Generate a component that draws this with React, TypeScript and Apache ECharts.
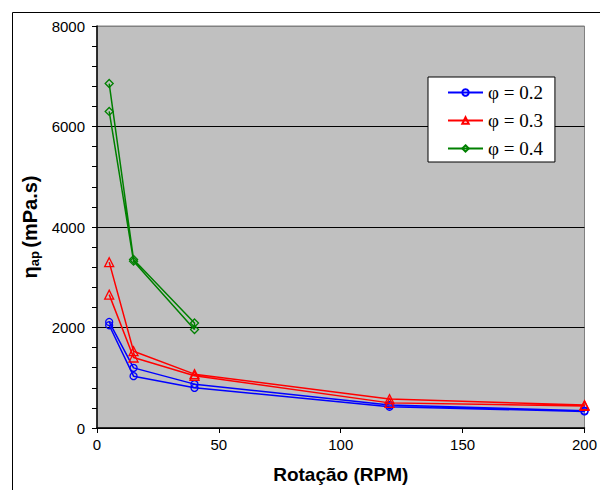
import React, { useEffect, useRef } from "react";
import * as echarts from "echarts";

const rpmLoop = [5, 15, 40, 120, 200, 200, 120, 40, 15, 5];
const phi02 = [2110, 1197, 873, 456, 345, 330, 423, 800, 1032, 2045];
const phi03 = [3300, 1528, 1072, 575, 456, 440, 500, 1040, 1403, 2654];
const rpmShort = [5, 15, 40, 40, 15, 5];
const phi04 = [6855, 3355, 2090, 1960, 3320, 6300];
const seriesNames = ["φ = 0.2", "φ = 0.3", "φ = 0.4"];
const xTicks = { min: 0, max: 200, interval: 50 };
const yTicks = { min: 0, max: 8000, interval: 2000 };

const pairs = (xs: number[], ys: number[]) => xs.map((x, i) => [x, ys[i]]);

export default function App() {
  const ref = useRef<HTMLDivElement>(null);
  useEffect(() => {
    if (!ref.current) return;
    const chart = echarts.init(ref.current, undefined, { renderer: "svg" });
    const font = "'Liberation Sans', Arial, sans-serif";
    const mk = (name: string, data: number[][], color: string, symbol: string, size: number) => ({
      name,
      type: "line",
      data,
      symbol,
      symbolSize: size,
      showAllSymbol: true,
      lineStyle: { color, width: 1.5 },
      itemStyle: { color: "rgba(0,0,0,0)", borderColor: color, borderWidth: 1.3 },
      emphasis: { disabled: true },
    });
    chart.setOption({
      animation: false,
      backgroundColor: "#ffffff",
      graphic: [
        {
          type: "rect",
          shape: { x: 12.5, y: 12.5, width: 620, height: 520 },
          style: { fill: "none", stroke: "#000", lineWidth: 1 },
          silent: true,
        },
      ],
      grid: {
        left: 97,
        right: 11,
        top: 26,
        bottom: 62,
        show: true,
        backgroundColor: "#c0c0c0",
        borderColor: "#808080",
        borderWidth: 1,
      },
      legend: {
        orient: "vertical",
        left: 428,
        top: 77,
        data: seriesNames,
        itemWidth: 35,
        itemHeight: 8,
        itemGap: 9,
        padding: [6, 12, 4, 19],
        backgroundColor: "#ffffff",
        borderColor: "#000",
        borderWidth: 1,
        borderRadius: 0,
        textStyle: {
          fontFamily: "'Liberation Serif', 'Times New Roman', serif",
          fontSize: 19,
          lineHeight: 19,
          color: "#000",
        },
      },
      xAxis: {
        type: "value",
        min: xTicks.min,
        max: xTicks.max,
        interval: xTicks.interval,
        name: "Rotação (RPM)",
        nameLocation: "middle",
        nameGap: 37,
        nameTextStyle: { fontFamily: font, fontSize: 19, fontWeight: "bold", color: "#000" },
        axisLine: { show: true, onZero: false, lineStyle: { color: "#000", width: 1.5 } },
        axisTick: { show: true, inside: false, length: 5, lineStyle: { color: "#000" } },
        axisLabel: { fontFamily: font, fontSize: 15, color: "#000", margin: 9 },
        splitLine: { show: false },
      },
      yAxis: {
        type: "value",
        min: yTicks.min,
        max: yTicks.max,
        interval: yTicks.interval,
        name: "{e|η}{s|ap} {e|(mPa.s)}",
        nameLocation: "middle",
        nameRotate: 90,
        nameGap: 50,
        nameTextStyle: {
          fontFamily: font,
          color: "#000",
          rich: {
            e: { fontFamily: font, fontSize: 20, fontWeight: "bold", color: "#000" },
            s: { fontFamily: font, fontSize: 13, fontWeight: "bold", color: "#000", padding: [8, 0, 0, 0] },
          },
        },
        axisLine: { show: true, lineStyle: { color: "#000", width: 1.5 } },
        axisTick: { show: true, inside: false, length: 5, lineStyle: { color: "#000" } },
        minorTick: { show: true, splitNumber: 5, length: 5, lineStyle: { color: "#000" } },
        axisLabel: {
          fontFamily: font,
          fontSize: 15,
          color: "#000",
          margin: 12,
          formatter: (v: number) => String(v),
        },
        splitLine: {
          show: true,
          lineStyle: { color: ["#000", "#000", "#000", "#000", "#808080"], width: 1 },
        },
      },
      series: [
        mk(seriesNames[0], pairs(rpmLoop, phi02), "#0000ff", "circle", 7),
        mk(seriesNames[1], pairs(rpmLoop, phi03), "#ff0000", "triangle", 9),
        mk(seriesNames[2], pairs(rpmShort, phi04), "#008000", "diamond", 8),
      ],
    });
    return () => chart.dispose();
  }, []);
  return (
    <div
      ref={ref}
      style={{ position: "fixed", left: 0, top: 0, width: 600, height: 490 }}
    />
  );
}
